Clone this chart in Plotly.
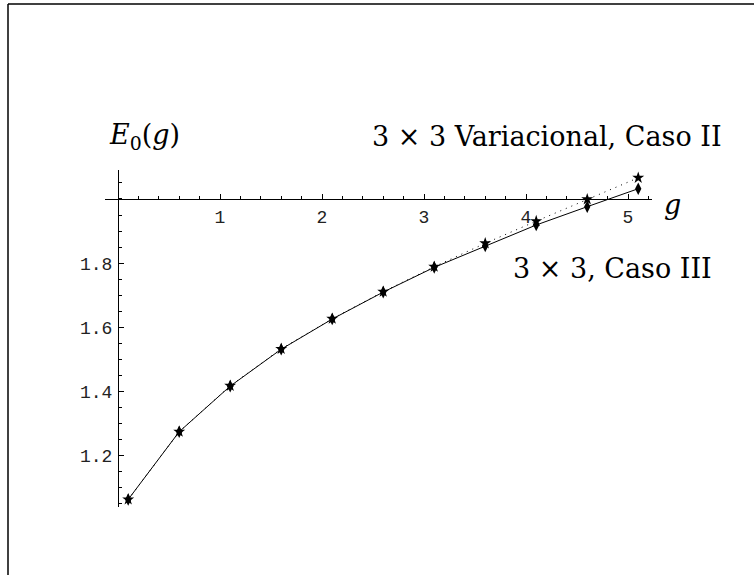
import plotly.graph_objects as go

# Ground-state energy E0(g) for the 3x3 truncations
g_vals = [0.1, 0.6, 1.1, 1.6, 2.1, 2.6, 3.1, 3.6, 4.1, 4.6, 5.1]
e_caso_iii = [1.064, 1.275, 1.417, 1.532, 1.626, 1.710, 1.787, 1.854, 1.919, 1.976, 2.032]
e_var_caso_ii = [1.064, 1.275, 1.418, 1.533, 1.627, 1.711, 1.789, 1.862, 1.931, 1.999, 2.066]

x_ticks = [1, 2, 3, 4, 5]
y_ticks = [1.2, 1.4, 1.6, 1.8]

W, H = 754, 575
ML, MR, MT, MB = 105, 102, 170, 68
PW, PH = W - ML - MR, H - MT - MB

X_RANGE = [-0.1275, 5.235]
Y_RANGE = [1.0405, 2.0903]


def px_x(p):
    return (p - ML) / PW


def px_y(p):
    return (H - MB - p) / PH


fig = go.Figure()

fig.add_trace(go.Scatter(
    x=g_vals, y=e_var_caso_ii, mode="lines+markers",
    line=dict(color="black", width=1, dash="1px,5px"),
    marker=dict(symbol="star", size=9, color="black"),
    showlegend=False,
))
fig.add_trace(go.Scatter(
    x=g_vals, y=e_caso_iii, mode="lines+markers",
    line=dict(color="black", width=1),
    marker=dict(symbol="diamond-tall", size=9, color="black"),
    showlegend=False,
))

tick_font = dict(family="Liberation Mono", size=18, color="#222")
label_font = dict(family="DejaVu Serif", size=27, color="black")

x_pos = (0 - X_RANGE[0]) / (X_RANGE[1] - X_RANGE[0])
y_pos = (2.0 - Y_RANGE[0]) / (Y_RANGE[1] - Y_RANGE[0])

fig.update_layout(
    width=W, height=H,
    margin=dict(l=ML, r=MR, t=MT, b=MB),
    paper_bgcolor="white", plot_bgcolor="white",
    xaxis=dict(
        range=X_RANGE, anchor="free", position=y_pos,
        showline=True, linecolor="black", linewidth=1,
        showgrid=False, zeroline=False,
        tickmode="array", tickvals=x_ticks, ticktext=[str(v) for v in x_ticks],
        ticks="inside", ticklen=5, tickwidth=1, tickcolor="black",
        tickfont=tick_font, ticklabelstandoff=1,
        minor=dict(tickmode="linear", tick0=0, dtick=0.2, ticks="inside",
                   ticklen=3, tickwidth=1, tickcolor="black"),
    ),
    yaxis=dict(
        range=Y_RANGE, anchor="free", position=x_pos,
        showline=True, linecolor="black", linewidth=1,
        showgrid=False, zeroline=False,
        tickmode="array", tickvals=y_ticks, ticktext=[f"{v:.1f}" for v in y_ticks],
        ticks="inside", ticklen=5, tickwidth=1, tickcolor="black",
        tickfont=tick_font, ticklabelstandoff=2,
        minor=dict(tickmode="linear", tick0=1.0, dtick=0.05, ticks="inside",
                   ticklen=3, tickwidth=1, tickcolor="black"),
    ),
)

annotations = [
    dict(text="<i>E</i><sub>0</sub>(<i>g</i>)", x=px_x(182), y=px_y(136),
         xanchor="right", yanchor="middle"),
    dict(text="3 × 3 Variacional, Caso II", x=px_x(724), y=px_y(136),
         xanchor="right", yanchor="middle"),
    dict(text="<i>g</i>", x=px_x(672), y=px_y(204),
         xanchor="center", yanchor="middle"),
    dict(text="3 × 3, Caso III", x=px_x(714), y=px_y(268),
         xanchor="right", yanchor="middle"),
]
for a in annotations:
    fig.add_annotation(xref="paper", yref="paper", showarrow=False,
                       font=label_font, **a)

# Outer frame (left and top edges)
fig.add_shape(type="line", xref="paper", yref="paper",
              x0=px_x(8), x1=px_x(8), y0=px_y(4), y1=px_y(620),
              line=dict(color="black", width=1.5))
fig.add_shape(type="line", xref="paper", yref="paper",
              x0=px_x(8), x1=px_x(800), y0=px_y(4), y1=px_y(4),
              line=dict(color="black", width=1.5))

fig.write_html("out.html")
